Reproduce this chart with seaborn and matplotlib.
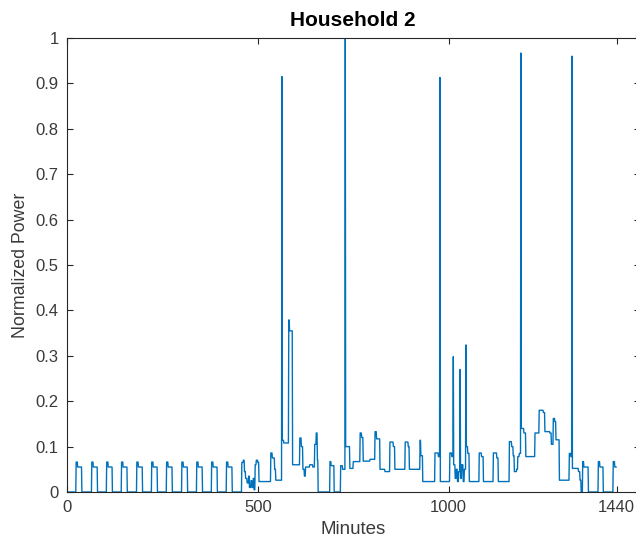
import matplotlib
matplotlib.use("Agg")
import matplotlib.pyplot as plt
import seaborn as sns
import pandas as pd
import numpy as np

# step profile: minute where a level starts, and the level
step_min = [0,
            24, 28, 39, 65, 69, 80, 104, 108, 119, 143, 147, 158,
            183, 187, 198, 222, 226, 237, 261, 265, 276, 301, 305, 316,
            340, 344, 355, 379, 383, 394, 418, 422, 433,
            458, 462, 465, 468, 472, 476, 478, 482, 485, 488, 490, 493, 496, 500, 503,
            534, 538, 544, 547, 564, 568, 581, 583, 591,
            610, 614, 618, 622, 625, 636, 644, 649, 653, 656, 658,
            689, 692, 700, 717, 722, 730, 741, 750, 768, 772, 776, 794,
            807, 811, 820, 833, 846, 855, 859, 886, 894, 897, 925, 927, 932,
            964, 973, 978, 1003, 1008, 1013, 1017, 1020, 1023, 1026, 1031, 1034, 1038, 1041,
            1046, 1050, 1054, 1080, 1086, 1091, 1117, 1126, 1130,
            1159, 1165, 1169, 1172, 1178, 1181, 1185, 1190, 1197, 1202,
            1226, 1237, 1248, 1252, 1265, 1269, 1274, 1278, 1281, 1290,
            1316, 1320, 1324, 1340, 1344, 1347, 1351, 1354, 1366,
            1392, 1396, 1405, 1431, 1435]
step_val = [0,
            0.066, 0.055, 0, 0.066, 0.055, 0, 0.066, 0.055, 0, 0.066, 0.055, 0,
            0.066, 0.055, 0, 0.066, 0.055, 0, 0.066, 0.055, 0, 0.066, 0.055, 0,
            0.066, 0.055, 0, 0.066, 0.055, 0, 0.066, 0.055, 0,
            0.065, 0.07, 0.045, 0.03, 0.02, 0.035, 0.01, 0.025, 0.01, 0.03, 0.005, 0.06, 0.07, 0.065, 0.023,
            0.086, 0.075, 0.05, 0.026, 0.114, 0.108, 0.379, 0.355, 0.06,
            0.119, 0.1, 0.05, 0.035, 0.055, 0.06, 0.055, 0.105, 0.13, 0.07, 0,
            0.067, 0.058, 0, 0.058, 0.05, 0.1, 0.052, 0.067, 0.13, 0.12, 0.068, 0.072,
            0.133, 0.117, 0.05, 0.045, 0.11, 0.1, 0.05, 0.11, 0.1, 0.05, 0.114, 0.08, 0.023,
            0.086, 0.078, 0.023, 0.086, 0.078, 0.06, 0.03, 0.05, 0.023, 0.045, 0.03, 0.06, 0.023, 0.05,
            0.1, 0.085, 0.023, 0.086, 0.078, 0.023, 0.086, 0.075, 0.023,
            0.111, 0.1, 0.08, 0.045, 0.05, 0.078, 0.085, 0.14, 0.13, 0.078,
            0.13, 0.18, 0.175, 0.133, 0.13, 0.105, 0.162, 0.155, 0.115, 0.026,
            0.085, 0.078, 0.052, 0.045, 0.026, 0, 0.067, 0.055, 0,
            0.067, 0.055, 0, 0.067, 0.055]

# one-minute spikes
spike_min = [563, 729, 977, 1012, 1030, 1045, 1189, 1323]
spike_val = [0.915, 1.0, 0.913, 0.298, 0.27, 0.324, 0.967, 0.96]

x_ticks = [0, 500, 1000, 1440]
y_ticks = [0, 0.1, 0.2, 0.3, 0.4, 0.5, 0.6, 0.7, 0.8, 0.9, 1]

n_min = 1440
power = np.repeat(step_val, np.diff(step_min + [n_min])).astype(float)
power[spike_min] = spike_val
df = pd.DataFrame({"Minutes": np.arange(n_min), "Power": power})

sns.set_style("ticks")
plt.rcParams['font.family'] = ['Liberation Sans', 'DejaVu Sans']

dark = "#262626"
fig = plt.figure(figsize=(6.36, 5.42), dpi=100)
ax = fig.add_axes([67 / 636, 50 / 542, 572.6 / 636, 454 / 542])

sns.lineplot(data=df, x="Minutes", y="Power", color="#0072BD", lw=1.0, ax=ax)

ax.set_xlim(0, 1500)
ax.set_ylim(0, 1)
ax.set_xticks(x_ticks)
ax.set_yticks(y_ticks)
ax.set_yticklabels(["%g" % v for v in y_ticks])
ax.tick_params(direction="in", top=True, right=True, length=4, width=0.8,
               colors=dark, labelsize=12, pad=6)
ax.tick_params(labelcolor="#3a3a3a")
for sp in ax.spines.values():
    sp.set_color(dark)
    sp.set_linewidth(0.8)

ax.set_xlabel("Minutes", fontsize=13.5, color="#3a3a3a", labelpad=4)
ax.set_ylabel("Normalized Power", fontsize=12.8, color="#3a3a3a", labelpad=5)
ax.set_title("Household 2", fontsize=15, fontweight="bold", color="black", pad=9)

fig.savefig("out.png", dpi=100)
